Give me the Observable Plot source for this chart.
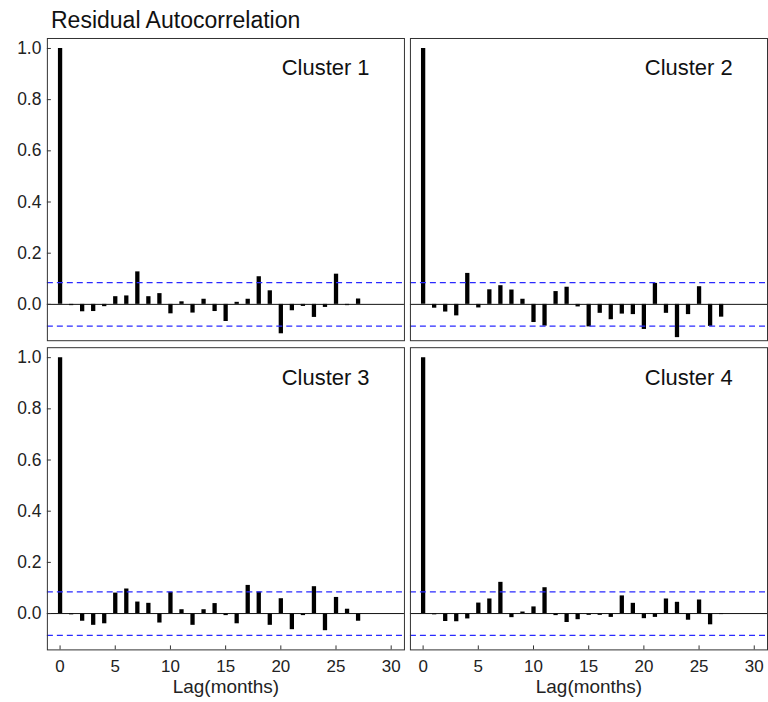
<!DOCTYPE html>
<html>
<head>
<meta charset="utf-8">
<script src="https://cdn.jsdelivr.net/npm/d3@7"></script>
<script src="https://cdn.jsdelivr.net/npm/@observablehq/plot@0.6"></script>
<style>
  html, body { margin: 0; padding: 0; background: #fff; }
  #wrap { width: 768px; height: 702px; position: relative; overflow: hidden; font-family: "Liberation Sans", Arial, sans-serif; }
  #title { position: absolute; left: 51px; top: 9px; font-size: 23px; line-height: 22px; color: #111; white-space: nowrap; }
  #chart { position: absolute; left: 0; top: 36px; }
</style>
</head>
<body>
<div id="wrap">
  <div id="title">Residual Autocorrelation</div>
  <div id="chart"></div>
</div>
<script>
// ---- data ----
const lags = [0, 1, 2, 3, 4, 5, 6, 7, 8, 9, 10, 11, 12, 13, 14, 15, 16, 17, 18, 19, 20, 21, 22, 23, 24, 25, 26, 27];
const clusterNames = ["Cluster 1", "Cluster 2", "Cluster 3", "Cluster 4"];
const cluster1 = [1.0, -0.005, -0.029, -0.028, -0.009, 0.03, 0.033, 0.127, 0.03, 0.042, -0.037, 0.01, -0.034, 0.02, -0.028, -0.067, 0.008, 0.02, 0.108, 0.053, -0.115, -0.025, -0.008, -0.051, -0.012, 0.118, -0.005, 0.021];
const cluster2 = [1.0, -0.015, -0.03, -0.045, 0.121, -0.014, 0.057, 0.073, 0.056, 0.02, -0.071, -0.085, 0.05, 0.067, -0.01, -0.088, -0.035, -0.06, -0.038, -0.04, -0.098, 0.082, -0.035, -0.13, -0.04, 0.069, -0.086, -0.05];
const cluster3 = [1.0, -0.005, -0.03, -0.046, -0.04, 0.08, 0.096, 0.045, 0.04, -0.037, 0.083, 0.015, -0.046, 0.015, 0.039, -0.008, -0.04, 0.11, 0.084, -0.046, 0.058, -0.063, -0.008, 0.105, -0.067, 0.063, 0.017, -0.03];
const cluster4 = [1.0, -0.005, -0.031, -0.032, -0.021, 0.041, 0.057, 0.122, -0.016, 0.006, 0.026, 0.101, -0.008, -0.035, -0.024, -0.007, -0.007, -0.015, 0.069, 0.04, -0.02, -0.015, 0.057, 0.044, -0.026, 0.053, -0.044, -0.004];
const ciBound = 0.085;
const xTicks = [0, 5, 10, 15, 20, 25, 30];
const yTicks = [0, 0.2, 0.4, 0.6, 0.8, 1.0];
const xTitle = "Lag(months)";

// ---- build tables ----
const series = [cluster1, cluster2, cluster3, cluster4];
const bars = series.flatMap((vals, i) => vals.map((v, j) => ({
  lag: lags[j], acf: v, col: i % 2, row: Math.floor(i / 2)
})));
const panels = clusterNames.map((name, i) => ({name, col: i % 2, row: Math.floor(i / 2)}));
const bottomPanels = panels.filter(p => p.row === 1);

const font = '"Liberation Sans", Arial, sans-serif';

const chart = Plot.plot({
  width: 770,
  height: 666,
  marginLeft: 47,
  marginRight: 0,
  marginTop: 2,
  marginBottom: 50,
  style: {fontFamily: font, background: "white", color: "#222", overflow: "visible"},
  fx: {axis: null, domain: [0, 1], paddingInner: 0.01646, paddingOuter: 0},
  fy: {axis: null, domain: [0, 1], paddingInner: 0.0225, paddingOuter: 0},
  x: {domain: [-1.15, 31.2]},
  y: {domain: [-0.142, 1.039]},
  marks: [
    // autocorrelation bars
    Plot.ruleX(bars, {x: "lag", y1: 0, y2: "acf", fx: "col", fy: "row", stroke: "black", strokeWidth: 4.3}),
    // zero line
    Plot.ruleY([0], {stroke: "#111", strokeWidth: 1}),
    // confidence bounds
    Plot.ruleY([ciBound, -ciBound], {stroke: "#2a2aff", strokeWidth: 1.3, strokeDasharray: "6,4"}),
    // panel frames
    Plot.frame({stroke: "#333", strokeWidth: 1}),
    // y axis: inward ticks + labels
    Plot.axisY({ticks: yTicks, tickSize: 4, dx: 4, tickFormat: () => "", label: null, stroke: "#333"}),
    Plot.axisY({ticks: yTicks, tickSize: 0, tickPadding: 6, tickFormat: d3.format(".1f"), label: null, fontSize: 17.5, fill: "#222"}),
    // x axis: inward ticks + labels
    Plot.axisX({ticks: xTicks, tickSize: 4, dy: -4, tickFormat: () => "", label: null, stroke: "#333"}),
    Plot.axisX({ticks: xTicks, tickSize: 0, tickPadding: 10, tickFormat: d3.format("d"), label: null, fontSize: 17, fill: "#222"}),
    // x axis titles under bottom panels
    Plot.text(bottomPanels, {fx: "col", fy: "row", text: () => xTitle, frameAnchor: "bottom", dy: 37, lineAnchor: "middle", fontSize: 19, fill: "#222"}),
    // panel labels
    Plot.text(panels, {fx: "col", fy: "row", text: "name", frameAnchor: "top", dx: 100, dy: 30, lineAnchor: "middle", fontSize: 22, fill: "#111"})
  ]
});
document.getElementById("chart").appendChild(chart);
</script>
</body>
</html>
